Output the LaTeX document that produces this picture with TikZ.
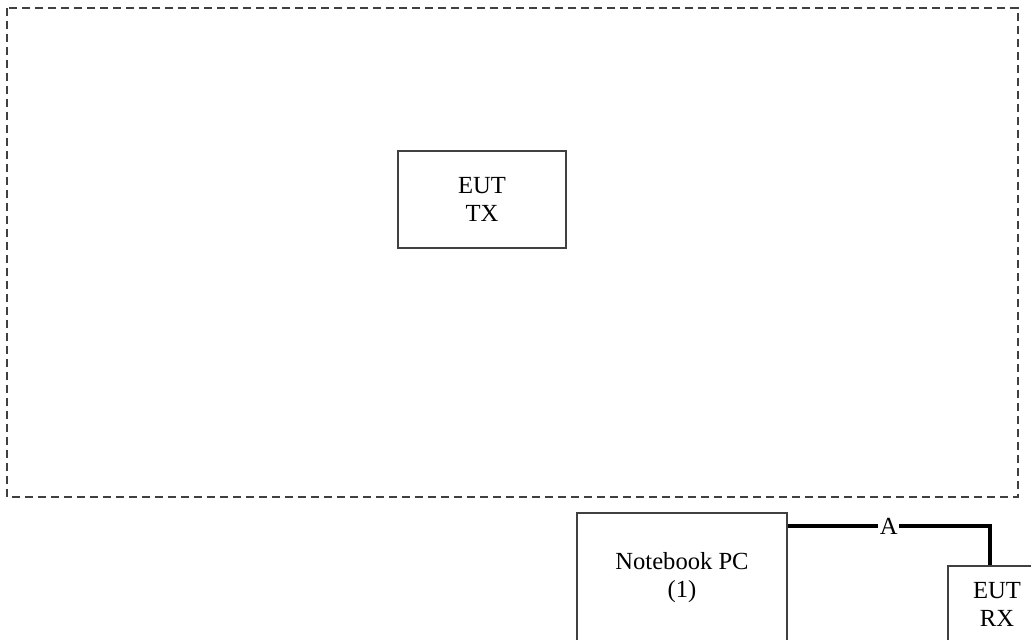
\documentclass[tikz,border=0pt]{standalone}
\usepackage{fontspec}
\setmainfont{Liberation Serif}
\begin{document}
\begin{tikzpicture}[x=0.02cm, y=-0.02cm,
    unitbox/.style={draw=black!75, line width=0.6pt, align=center, inner sep=0pt,
        font=\fontsize{14}{16}\selectfont},
    cable/.style={line width=2pt}]
    \useasboundingbox (0, 0) rectangle (1031, 639);
    \clip (0, 0) rectangle (1031, 639);
    % Test area
    \draw[black!75, line width=0.6pt, dash pattern=on 0.16cm off 0.1cm] (7, 8) rectangle (1018, 497);
    \node[unitbox, minimum width=168*0.02cm, minimum height=97*0.02cm] (tx) at (482, 199.5) {EUT\\TX};
    % Support equipment
    \node[unitbox, minimum width=210*0.02cm, minimum height=130*0.02cm] (pc) at (682, 578) {Notebook PC\\(1)};
    \node[unitbox, minimum width=98*0.02cm, minimum height=76*0.02cm] (rx) at (997, 604) {EUT\\RX};
    \coordinate (bend) at (990, 526);
    \draw[cable] (pc.east |- bend) -- node[fill=white, inner sep=1pt, font=\fontsize{14}{16}\selectfont] (lblA) {A} (bend) -- (bend |- rx.north);
\end{tikzpicture}
\end{document}
